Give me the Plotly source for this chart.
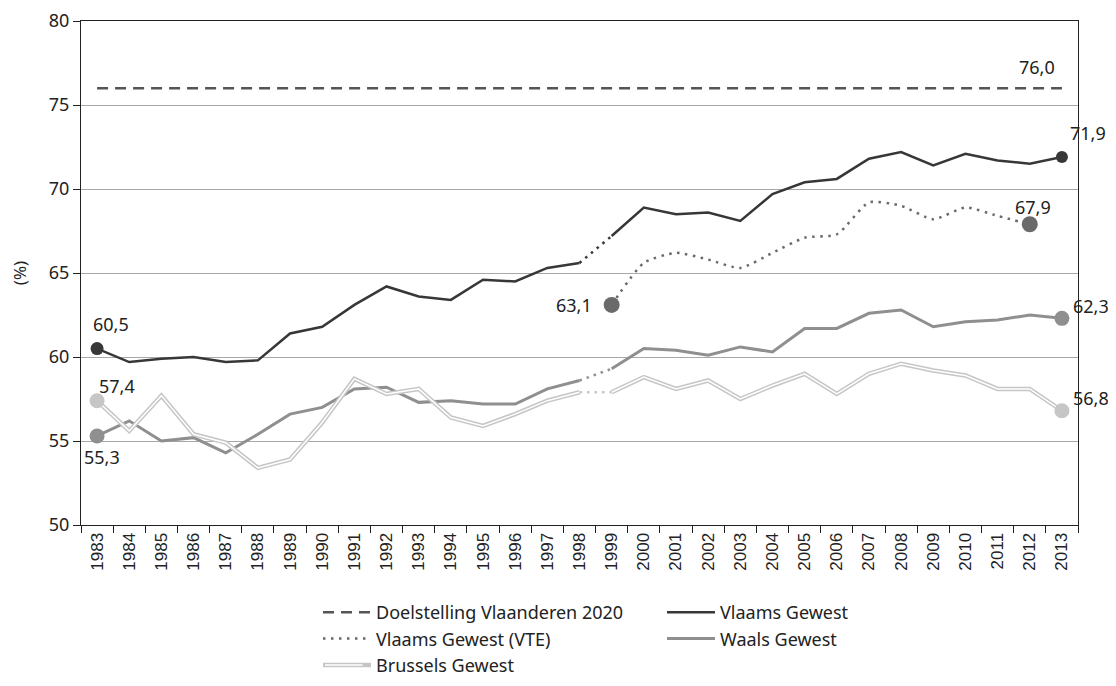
import plotly.graph_objects as go

years = [str(y) for y in range(1983, 2014)]

doelstelling = [76.0] * 31

vlaams = [60.5, 59.7, 59.9, 60.0, 59.7, 59.8, 61.4, 61.8, 63.1, 64.2,
          63.6, 63.4, 64.6, 64.5, 65.3, 65.6, 67.2, 68.9, 68.5, 68.6,
          68.1, 69.7, 70.4, 70.6, 71.8, 72.2, 71.4, 72.1, 71.7, 71.5, 71.9]

vte_years = [str(y) for y in range(1999, 2013)]
vte = [63.1, 65.6, 66.2, 65.8, 65.3, 66.2, 67.1, 67.3, 69.2, 69.0,
       68.2, 68.9, 68.4, 67.9]

waals = [55.3, 56.2, 55.0, 55.2, 54.3, 55.4, 56.6, 57.0, 58.1, 58.2,
         57.3, 57.4, 57.2, 57.2, 58.1, 58.6, 59.3, 60.5, 60.4, 60.1,
         60.6, 60.3, 61.7, 61.7, 62.6, 62.8, 61.8, 62.1, 62.2, 62.5, 62.3]

brussels = [57.4, 55.6, 57.7, 55.4, 54.9, 53.4, 53.9, 56.1, 58.7, 57.8,
            58.1, 56.4, 55.9, 56.6, 57.4, 57.9, 57.9, 58.8, 58.1, 58.6,
            57.5, 58.3, 59.0, 57.8, 59.0, 59.6, 59.2, 58.9, 58.1, 58.1, 56.8]

BREAK = 15  # index of 1998: series break between 1998 and 1999

C_DOEL = "#555555"
C_VL = "#373737"
C_VTE = "#6a6a6a"
C_WA = "#8f8f8f"
C_BR = "#c6c6c6"
TXT = "#222222"
FONT = "Noto Sans"

# figure geometry (page body has an 8px margin)
FIG_W, FIG_H = 1108, 678
M_L, M_R, M_T, M_B = 73, 38, 13, 161
PLOT_W = FIG_W - M_L - M_R
PLOT_H = FIG_H - M_T - M_B
PAGE_X0, PAGE_Y1 = 8 + M_L, 8 + FIG_H - M_B   # plot-area left / bottom on page


def split(xs, ys):
    """Solid series with a gap between the break years."""
    return (xs[:BREAK + 1] + [None] + xs[BREAK + 1:],
            ys[:BREAK + 1] + [None] + ys[BREAK + 1:])


fig = go.Figure()

# Doelstelling
fig.add_trace(go.Scatter(x=years, y=doelstelling, mode="lines",
                         name="Doelstelling Vlaanderen 2020",
                         line=dict(color=C_DOEL, width=2.5, dash="11px,7px")))

# Vlaams Gewest
xv, yv = split(years, vlaams)
fig.add_trace(go.Scatter(x=xv, y=yv, mode="lines", name="Vlaams Gewest",
                         connectgaps=False,
                         line=dict(color=C_VL, width=2.5)))
fig.add_trace(go.Scatter(x=years[BREAK:BREAK + 2], y=vlaams[BREAK:BREAK + 2],
                         mode="lines", showlegend=False, hoverinfo="skip",
                         line=dict(color=C_VL, width=2.5, dash="2.5px,5px")))

# Vlaams Gewest (VTE)
fig.add_trace(go.Scatter(x=vte_years, y=vte, mode="lines",
                         name="Vlaams Gewest (VTE)",
                         line=dict(color=C_VTE, width=2.5, dash="2.5px,5.5px",
                                   shape="spline", smoothing=0.6)))

# Waals Gewest
xw, yw = split(years, waals)
fig.add_trace(go.Scatter(x=xw, y=yw, mode="lines", name="Waals Gewest",
                         connectgaps=False,
                         line=dict(color=C_WA, width=3)))
fig.add_trace(go.Scatter(x=years[BREAK:BREAK + 2], y=waals[BREAK:BREAK + 2],
                         mode="lines", showlegend=False, hoverinfo="skip",
                         line=dict(color=C_WA, width=2.5, dash="2.5px,5px")))

# Brussels Gewest (double line)
xb, yb = split(years, brussels)
fig.add_trace(go.Scatter(x=xb, y=yb, mode="lines", name="Brussels Gewest",
                         connectgaps=False,
                         line=dict(color=C_BR, width=4.5)))
fig.add_trace(go.Scatter(x=xb, y=yb, mode="lines", showlegend=False,
                         connectgaps=False, hoverinfo="skip",
                         line=dict(color="white", width=1.5)))
fig.add_trace(go.Scatter(x=years[BREAK:BREAK + 2], y=brussels[BREAK:BREAK + 2],
                         mode="lines", showlegend=False, hoverinfo="skip",
                         line=dict(color=C_BR, width=2.5, dash="2.5px,5px")))


# End-point markers
def marker(x, y, color, size):
    fig.add_trace(go.Scatter(x=[x], y=[y], mode="markers", showlegend=False,
                             hoverinfo="skip",
                             marker=dict(color=color, size=size,
                                         line=dict(width=0))))


marker(years[0], vlaams[0], C_VL, 13)
marker(years[-1], vlaams[-1], C_VL, 12)
marker(vte_years[0], vte[0], C_VTE, 16)
marker(vte_years[-1], vte[-1], C_VTE, 16)
marker(years[0], waals[0], C_WA, 15)
marker(years[-1], waals[-1], C_WA, 15)
marker(years[0], brussels[0], C_BR, 15)
marker(years[-1], brussels[-1], C_BR, 15)


def fmt(v):
    return f"{v:.1f}".replace(".", ",")


def label(year, y, xshift, yshift, xanchor="center"):
    fig.add_annotation(x=years.index(year), y=y, xref="x", yref="y",
                       text=fmt(y), showarrow=False,
                       xshift=xshift, yshift=yshift,
                       xanchor=xanchor, yanchor="middle",
                       font=dict(family=FONT, size=18, color=TXT))


label(years[0], vlaams[0], 14, 25)
label(years[0], brussels[0], 20, 15)
label(years[0], waals[0], 5, -21)
label(vte_years[0], vte[0], -18, 0, "right")
label(vte_years[-1], vte[-1], 3, 17)
label(years[-1], vlaams[-1], 26, 24)
label(years[-1], waals[-1], 29, 12)
label(years[-1], brussels[-1], 29, 13)
label(years[-2], doelstelling[-2], 7, 21)

# white core of the double-line legend symbol for "Brussels Gewest"
fig.add_annotation(x=(325 - PAGE_X0) / PLOT_W, y=(PAGE_Y1 - 665) / PLOT_H,
                   xref="paper", yref="paper", text="",
                   showarrow=True, arrowhead=0, arrowwidth=1.5,
                   arrowcolor="white", ax=39, ay=0,
                   standoff=0, startstandoff=0)

fig.update_layout(
    width=FIG_W, height=FIG_H,
    margin=dict(l=M_L, r=M_R, t=M_T, b=M_B, autoexpand=False),
    paper_bgcolor="white", plot_bgcolor="white",
    font=dict(family=FONT, size=18, color=TXT),
    showlegend=True,
    legend=dict(orientation="h", x=(318 - PAGE_X0) / PLOT_W, xanchor="left",
                y=-(594 - PAGE_Y1) / PLOT_H, yanchor="top",
                entrywidth=281, entrywidthmode="pixels",
                font=dict(family=FONT, size=18, color=TXT),
                traceorder="normal", itemwidth=48, tracegroupgap=0),
)

fig.update_xaxes(type="category", categoryorder="array", categoryarray=years,
                 range=[-0.5, 30.5], tickson="boundaries", automargin=False,
                 ticks="outside", ticklen=7, tickcolor=TXT, tickangle=-90,
                 tickfont=dict(family="Liberation Sans", size=17, color=TXT),
                 showline=True, linecolor=TXT, linewidth=1.2, mirror=True,
                 showgrid=False, zeroline=False)

fig.update_yaxes(range=[50, 80], dtick=5, tick0=50, automargin=False,
                 ticks="outside", ticklen=7, tickcolor=TXT,
                 ticklabeloverflow="allow",
                 tickfont=dict(family=FONT, size=18, color=TXT),
                 showline=True, linecolor=TXT, linewidth=1.2, mirror=True,
                 showgrid=True, gridcolor="#a8a8a8", gridwidth=1,
                 zeroline=False,
                 title=dict(text="(%)", standoff=30,
                            font=dict(family=FONT, size=17, color=TXT)))

fig.write_html("out.html")
